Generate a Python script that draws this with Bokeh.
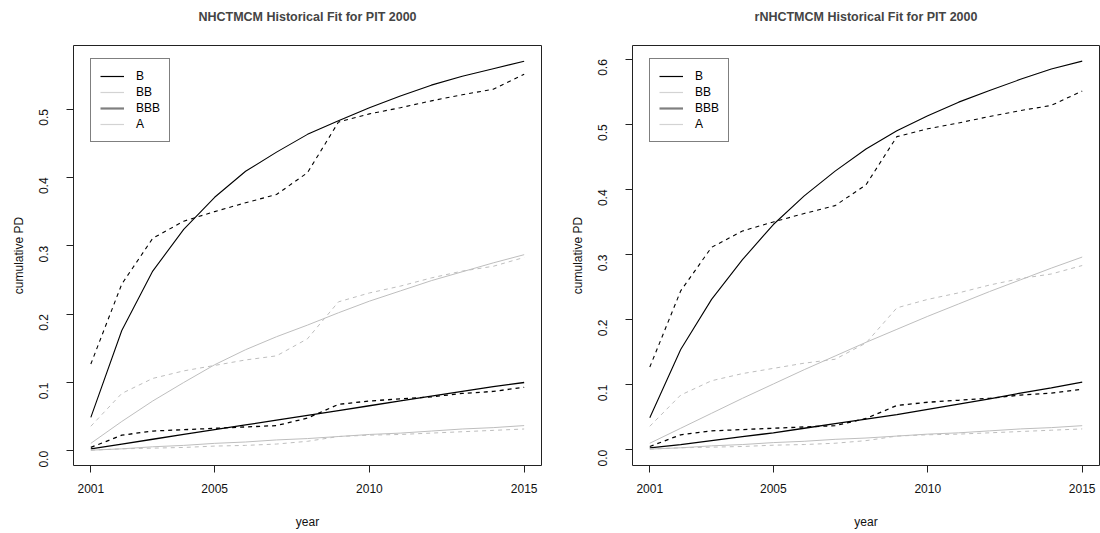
import math
from bokeh.plotting import figure
from bokeh.layouts import row
from bokeh.models import (ColumnDataSource, Range1d, FixedTicker, Legend, LegendItem,
                          PrintfTickFormatter, Title)
from bokeh.embed import file_html
from bokeh.resources import INLINE

years = list(range(2001, 2016))

# historical (observed) cumulative PDs - same in both panels
hist_B = [0.127, 0.244, 0.311, 0.336, 0.350, 0.363, 0.375, 0.407, 0.481, 0.493, 0.502, 0.512, 0.521, 0.529, 0.551]
hist_BB = [0.036, 0.084, 0.106, 0.117, 0.125, 0.133, 0.139, 0.164, 0.218, 0.231, 0.241, 0.253, 0.263, 0.270, 0.283]
hist_BBB = [0.005, 0.023, 0.029, 0.031, 0.033, 0.035, 0.037, 0.048, 0.068, 0.073, 0.076, 0.079, 0.084, 0.087, 0.093]
hist_A = [0.001, 0.003, 0.004, 0.005, 0.007, 0.008, 0.010, 0.014, 0.021, 0.023, 0.024, 0.026, 0.028, 0.030, 0.032]

# NHCTMCM fitted
fit1_B = [0.049, 0.176, 0.263, 0.324, 0.371, 0.409, 0.437, 0.463, 0.483, 0.502, 0.519, 0.535, 0.548, 0.559, 0.570]
fit1_BB = [0.011, 0.043, 0.073, 0.100, 0.126, 0.148, 0.167, 0.184, 0.202, 0.219, 0.234, 0.249, 0.262, 0.275, 0.287]
fit1_BBB = [0.003, 0.010, 0.017, 0.024, 0.031, 0.038, 0.045, 0.052, 0.059, 0.066, 0.073, 0.080, 0.087, 0.094, 0.100]
fit1_A = [0.001, 0.003, 0.006, 0.008, 0.011, 0.013, 0.016, 0.018, 0.021, 0.024, 0.026, 0.029, 0.032, 0.034, 0.037]

# rNHCTMCM fitted
fit2_B = [0.049, 0.154, 0.231, 0.292, 0.346, 0.390, 0.428, 0.462, 0.490, 0.513, 0.534, 0.552, 0.569, 0.585, 0.597]
fit2_BB = [0.010, 0.033, 0.056, 0.079, 0.101, 0.123, 0.144, 0.165, 0.185, 0.205, 0.224, 0.243, 0.261, 0.279, 0.296]
fit2_BBB = [0.003, 0.008, 0.014, 0.020, 0.026, 0.033, 0.040, 0.047, 0.054, 0.062, 0.070, 0.078, 0.087, 0.095, 0.104]
fit2_A = [0.001, 0.003, 0.006, 0.008, 0.011, 0.013, 0.016, 0.018, 0.021, 0.024, 0.026, 0.029, 0.032, 0.034, 0.037]

ratings = ["B", "BB", "BBB", "A"]
x_ticks = [2001, 2005, 2010, 2015]

FONT = "Liberation Sans"
BLACK = "#000000"
LGRAY = "#bebebe"

plot_colors = {"B": BLACK, "BB": LGRAY, "BBB": BLACK, "A": LGRAY}
plot_widths = {"B": 1.1, "BB": 1.0, "BBB": 1.3, "A": 1.0}
legend_colors = {"B": BLACK, "BB": "#d3d3d3", "BBB": "#7f7f7f", "A": "#d3d3d3"}
legend_widths = {"B": 1.2, "BB": 1.2, "BBB": 2.2, "A": 1.2}


def make_panel(title, fits, yr, yticks, bl, fw, br):
    src = ColumnDataSource(dict(year=years,
                                hB=hist_B, hBB=hist_BB, hBBB=hist_BBB, hA=hist_A,
                                fB=fits[0], fBB=fits[1], fBBB=fits[2], fA=fits[3]))
    p = figure(output_backend="svg", toolbar_location=None,
               frame_width=fw, frame_height=420,
               min_border_left=bl, min_border_right=br,
               min_border_top=44, min_border_bottom=69,
               x_range=Range1d(2000.44, 2015.56), y_range=Range1d(*yr),
               title=title)
    p.title.align = "center"
    p.title.text_font = FONT
    p.title.text_font_size = "12.5px"
    p.title.text_font_style = "bold"
    p.title.standoff = 14
    # thin spacer between title and frame
    p.add_layout(Title(text=" ", text_font_size="1px", standoff=12), "above")
    p.grid.visible = False
    p.outline_line_color = "#222222"
    p.outline_line_width = 1
    p.background_fill_color = "white"
    p.border_fill_color = "white"

    for ax in (p.xaxis[0], p.yaxis[0]):
        ax.axis_line_color = None
        ax.major_tick_out = 7
        ax.major_tick_in = 0
        ax.minor_tick_line_color = None
        ax.major_tick_line_color = "#222222"
        ax.major_label_text_font = FONT
        ax.major_label_text_font_size = "12px"
        ax.major_label_text_color = "#111111"
        ax.axis_label_text_font = FONT
        ax.axis_label_text_font_size = "12px"
        ax.axis_label_text_font_style = "normal"
        ax.axis_label_text_color = "#111111"

    p.xaxis.ticker = FixedTicker(ticks=x_ticks)
    p.xaxis.axis_label = "year"
    p.xaxis.major_label_standoff = 11
    p.xaxis.axis_label_standoff = 19

    p.yaxis.ticker = FixedTicker(ticks=yticks)
    p.yaxis.formatter = PrintfTickFormatter(format="%.1f")
    p.yaxis.axis_label = "cumulative PD"
    p.yaxis.major_label_orientation = math.pi / 2
    p.yaxis.major_label_standoff = 23
    p.yaxis.axis_label_standoff = 6

    for r in ratings:
        p.line("year", "f" + r, source=src, line_color=plot_colors[r],
               line_width=plot_widths[r])
        p.line("year", "h" + r, source=src, line_color=plot_colors[r],
               line_width=plot_widths[r], line_dash="4 4")

    items = []
    for r in ratings:
        d = p.line(x=[float("nan")], y=[float("nan")], line_color=legend_colors[r],
                   line_width=legend_widths[r])
        items.append(LegendItem(label=r, renderers=[d]))
    leg = Legend(items=items, location=(17, 323))
    leg.border_line_color = "black"
    leg.border_line_width = 1
    leg.background_fill_color = "white"
    leg.background_fill_alpha = 1
    leg.label_text_font = FONT
    leg.label_text_font_size = "12px"
    leg.label_text_color = "#000000"
    leg.label_height = 16
    leg.glyph_height = 16
    leg.glyph_width = 24
    leg.label_standoff = 12
    leg.spacing = 0
    leg.padding = 9
    leg.margin = 0
    p.add_layout(leg, "center")
    return p


p1 = make_panel("NHCTMCM Historical Fit for PIT 2000",
                [fit1_B, fit1_BB, fit1_BBB, fit1_A],
                (-0.0214, 0.593), [0.0, 0.1, 0.2, 0.3, 0.4, 0.5], 73, 468, 9)
p2 = make_panel("rNHCTMCM Historical Fit for PIT 2000",
                [fit2_B, fit2_BB, fit2_BBB, fit2_A],
                (-0.0242, 0.621), [0.0, 0.1, 0.2, 0.3, 0.4, 0.5, 0.6], 82, 467, 1)

layout = row(p1, p2)
open("out.html", "w").write(file_html(layout, INLINE))
